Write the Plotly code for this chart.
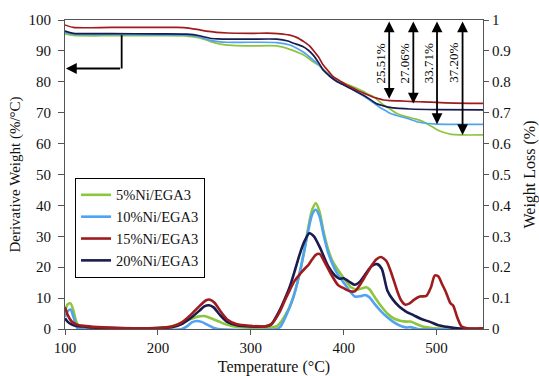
import plotly.graph_objects as go

# ---------------- data ----------------
series_names = ["5%Ni/EGA3", "10%Ni/EGA3", "15%Ni/EGA3", "20%Ni/EGA3"]

# TGA (weight) curves
tga_x_5 = [100,109,150,200,231,245,255,267,280,300,328,342,350,357,367,373,378,385,393,400,407,414,421,427,432,437,443,450,457,466,478,485,492,500,508,516,525,550]
tga_y_5 = [95.5,95,94.9,94.9,94.8,94.2,93.2,92.2,91.8,91.6,91.6,90.5,89.6,88.7,86.5,85.4,84,82.3,80.5,79.6,78.8,77.9,76.9,75.9,75.2,74,72.5,71.2,69.8,68.8,67.9,67.2,66,64.6,63.6,63,62.8,62.8]

tga_x_10 = [100,109,150,200,231,245,256,265,274,300,328,342,350,358,367,373,378,385,393,400,407,414,421,428,434,439,445,450,458,468,480,490,500,550]
tga_y_10 = [96,95.4,95.3,95.2,95.1,94.5,93.4,93,92.8,92.8,92.7,91.9,90.8,89.3,87.1,85.6,83.8,82,80.2,79.2,78,76.8,75.5,74.1,72.8,71.7,70.7,69.8,69,68.2,67,66.5,66.3,66.2]

tga_x_15 = [100,109,150,200,220,235,245,255,263,275,300,324,335,342,350,357,363,367,373,378,384,389,396,403,410,418,425,432,437,443,450,460,475,486,510,550]
tga_y_15 = [98.4,97.6,97.6,97.6,97.6,97.3,96.8,96.3,96,95.8,95.7,95.7,95.4,95.1,94.3,93,91.7,90.3,88,85.4,83.3,81.6,80.3,79,78,76.8,75.9,75,74.6,74.1,73.9,73.8,73.6,73.5,73.2,73]

tga_x_20 = [100,109,150,200,231,245,256,265,274,300,328,340,346,356,362,367,373,378,385,393,400,407,414,421,428,435,442,450,460,471,500,550]
tga_y_20 = [96.4,95.7,95.6,95.5,95.4,94.9,94.1,93.9,93.8,93.8,93.8,93.2,92.5,91.4,90.2,88.7,86.2,83.8,81.8,80,79,77.9,76.8,75.7,74.4,73,72.3,71.7,71.4,71.2,71,70.9]

# DTG (derivative) curves
dtg_x_5 = [100,103,106,109,112,115,120,140,180,205,215,225,235,243,250,257,265,273,282,295,310,322,328,333,338,342,346,350,354,358,362,366,370,374,378,383,388,393,400,408,415,420,424,428,433,440,447,454,462,468,472,477,485,495,510,550]
dtg_y_5 = [6,8,8.3,6,2.5,0.8,0.5,0.3,0.2,0.4,0.9,2,3.2,4,4.2,3.5,2.5,1.5,0.8,0.5,0.4,0.5,0.9,2.5,5,7.2,10.5,14.8,20,26,33,38.5,40.7,38,32,26,22,19.5,16.5,13.5,12.8,13.2,13.5,12.8,10.5,7.5,5,3.4,2.6,2.4,2.4,1.8,0.8,0.3,0.1,0.1]

dtg_x_10 = [100,103,106,109,112,114,120,226,232,237,242,247,253,259,265,328,332,336,342,346,350,354,358,362,366,370,374,378,383,388,393,400,406,412,418,423,428,433,440,447,455,463,468,472,476,480,550]
dtg_y_10 = [4,5.8,6.3,4,1.2,0,0,0,1,2.2,2.6,2.3,1.4,0.5,0,0,0.8,3,7.2,10.5,14.8,20,26,32,37,38.6,36.5,31,25,21,18,15,12.5,10.5,10.6,11,10.2,8.2,5.8,3.8,2,0.8,0.5,0.6,0.3,0,0]

dtg_x_15 = [100,103,107,112,120,135,160,200,215,225,235,245,252,256,261,268,275,285,300,315,322,331,337,342,347,353,358,362,366,370,374,378,385,394,400,407,412,418,424,430,435,440,446,452,458,462,466,471,476,482,489,494,498,502,506,510,515,518,522,527,533,550]
dtg_y_15 = [7,4.5,2.5,1.5,1,0.6,0.3,0.3,0.8,2,4.5,7.5,9.3,9.5,8.5,5.5,3,1.5,1,0.8,1.5,5.5,9.5,12.6,15.5,17.8,19.5,20.7,22.5,24,24.3,22.5,18.5,14.2,13.2,12.2,12.2,14.5,17.5,20.5,22.5,23.3,22,17.5,12,9.2,7.9,8.3,9.5,10.5,10.7,13.5,17.3,17,14.5,12,8.3,7.5,4,0.8,0.2,0.2]

dtg_x_20 = [100,103,107,112,120,130,150,200,215,225,235,245,250,255,260,267,275,285,300,315,322,331,337,342,348,353,358,363,368,375,383,390,395,400,405,412,418,424,430,436,441,447,453,460,468,475,483,493,502,511,520,530,550]
dtg_y_20 = [3.5,2.3,1.5,1,0.8,0.5,0.3,0.3,0.6,1.5,3.5,6,7.3,7.7,7,4.5,2.2,1.2,0.8,0.8,1.5,6,10,13.7,19.5,24.5,28.5,31,30,26,20.5,17.5,16.3,16.4,15.5,14.3,15.5,18,20.3,21,19.5,12.5,9.5,7.2,5.5,4.5,3.3,2.3,1.2,0.7,0.3,0.05,0]

# weight-loss annotations
loss_labels = ["25.51%", "27.06%", "33.71%", "37.20%"]
loss_values = [25.51, 27.06, 33.71, 37.20]
loss_temps = [449, 475, 500.5, 528]

x_ticks = [100, 200, 300, 400, 500]
y_ticks = [0, 10, 20, 30, 40, 50, 60, 70, 80, 90, 100]
y2_ticks = [0, 0.1, 0.2, 0.3, 0.4, 0.5, 0.6, 0.7, 0.8, 0.9, 1]

# ---------------- styling ----------------
colors = {"5%Ni/EGA3": "#8cc63e", "10%Ni/EGA3": "#4fa3f2",
          "15%Ni/EGA3": "#a01b1d", "20%Ni/EGA3": "#1a1b4f"}
FONT = "Liberation Serif, Times New Roman, serif"

tga = {"5%Ni/EGA3": (tga_x_5, tga_y_5), "10%Ni/EGA3": (tga_x_10, tga_y_10),
       "15%Ni/EGA3": (tga_x_15, tga_y_15), "20%Ni/EGA3": (tga_x_20, tga_y_20)}
dtg = {"5%Ni/EGA3": (dtg_x_5, dtg_y_5), "10%Ni/EGA3": (dtg_x_10, dtg_y_10),
       "15%Ni/EGA3": (dtg_x_15, dtg_y_15), "20%Ni/EGA3": (dtg_x_20, dtg_y_20)}

fig = go.Figure()
draw_order = ["5%Ni/EGA3", "10%Ni/EGA3", "20%Ni/EGA3", "15%Ni/EGA3"]
for name in draw_order:
    x, y = tga[name]
    fig.add_trace(go.Scatter(x=x, y=y, mode="lines", name=name, showlegend=False,
                             line=dict(color=colors[name], width=1.7, shape="spline", smoothing=0.7),
                             hoverinfo="skip"))
for name in draw_order:
    rank = series_names.index(name)
    x, y = dtg[name]
    fig.add_trace(go.Scatter(x=x, y=y, mode="lines", name=name, legendrank=rank + 1,
                             line=dict(color=colors[name], width=2.6, shape="spline", smoothing=0.7)))

# secondary axis anchor trace
fig.add_trace(go.Scatter(x=[None], y=[None], yaxis="y2", showlegend=False, hoverinfo="skip"))

annotations = []
for lab, val, t in zip(loss_labels, loss_values, loss_temps):
    annotations.append(dict(x=t, y=100 - val, ax=t, ay=100, xref="x", yref="y",
                            axref="x", ayref="y", text="", showarrow=True,
                            arrowhead=2, startarrowhead=2, arrowside="end+start",
                            arrowsize=1.2, startarrowsize=1.2, arrowwidth=1.8, arrowcolor="black",
                            standoff=0, startstandoff=0))
    annotations.append(dict(x=t, y=86, xref="x", yref="y", text=lab, showarrow=False,
                            textangle=-90, xshift=-9,
                            font=dict(family=FONT, size=13, color="black")))

# left-pointing arrow from the weight curves to the left axis
annotations.append(dict(x=101, y=84.3, ax=161, ay=84.3, xref="x", yref="y",
                        axref="x", ayref="y", text="", showarrow=True,
                        arrowhead=2, arrowsize=1.2, arrowwidth=1.8, arrowcolor="black",
                        standoff=0))

fig.update_layout(
    width=539, height=376,
    margin=dict(l=65, r=56, t=20, b=47, autoexpand=False),
    paper_bgcolor="white", plot_bgcolor="white",
    font=dict(family=FONT, size=15, color="#111"),
    showlegend=True,
    legend=dict(x=0.024, y=0.489, xanchor="left", yanchor="top",
                bordercolor="black", borderwidth=1, bgcolor="white",
                font=dict(family=FONT, size=14.5, color="#111"),
                itemwidth=30, tracegroupgap=0),
    xaxis=dict(range=[100, 550], tickvals=x_ticks, ticks="outside", ticklen=5,
               tickcolor="#555", showline=True, linecolor="#555", linewidth=1.2,
               mirror=True, showgrid=False, zeroline=False, automargin=False,
               title=dict(text="Temperature (°C)", font=dict(family=FONT, size=16), standoff=6),
               tickfont=dict(family=FONT, size=15)),
    yaxis=dict(range=[0, 100], tickvals=y_ticks, ticks="outside", ticklen=6,
               ticklabelstandoff=4,
               tickcolor="#555", showline=True, linecolor="#555", linewidth=1.2,
               showgrid=False, zeroline=False, automargin=False,
               title=dict(text="Derivative Weight (%/°C)", font=dict(family=FONT, size=15), standoff=4),
               tickfont=dict(family=FONT, size=15)),
    yaxis2=dict(range=[0, 1], tickvals=y2_ticks, overlaying="y", side="right",
                ticks="outside", ticklen=5, tickcolor="#555", showline=True,
                linecolor="#555", linewidth=1.2, showgrid=False, zeroline=False,
                automargin=False,
                title=dict(text="Weight Loss (%)", font=dict(family=FONT, size=16)),
                tickfont=dict(family=FONT, size=15)),
    annotations=annotations,
    shapes=[dict(type="line", xref="x", yref="y", x0=161, x1=161, y0=95.1, y1=84.3,
                 line=dict(color="black", width=1.8))],
)

fig.write_html("out.html")
